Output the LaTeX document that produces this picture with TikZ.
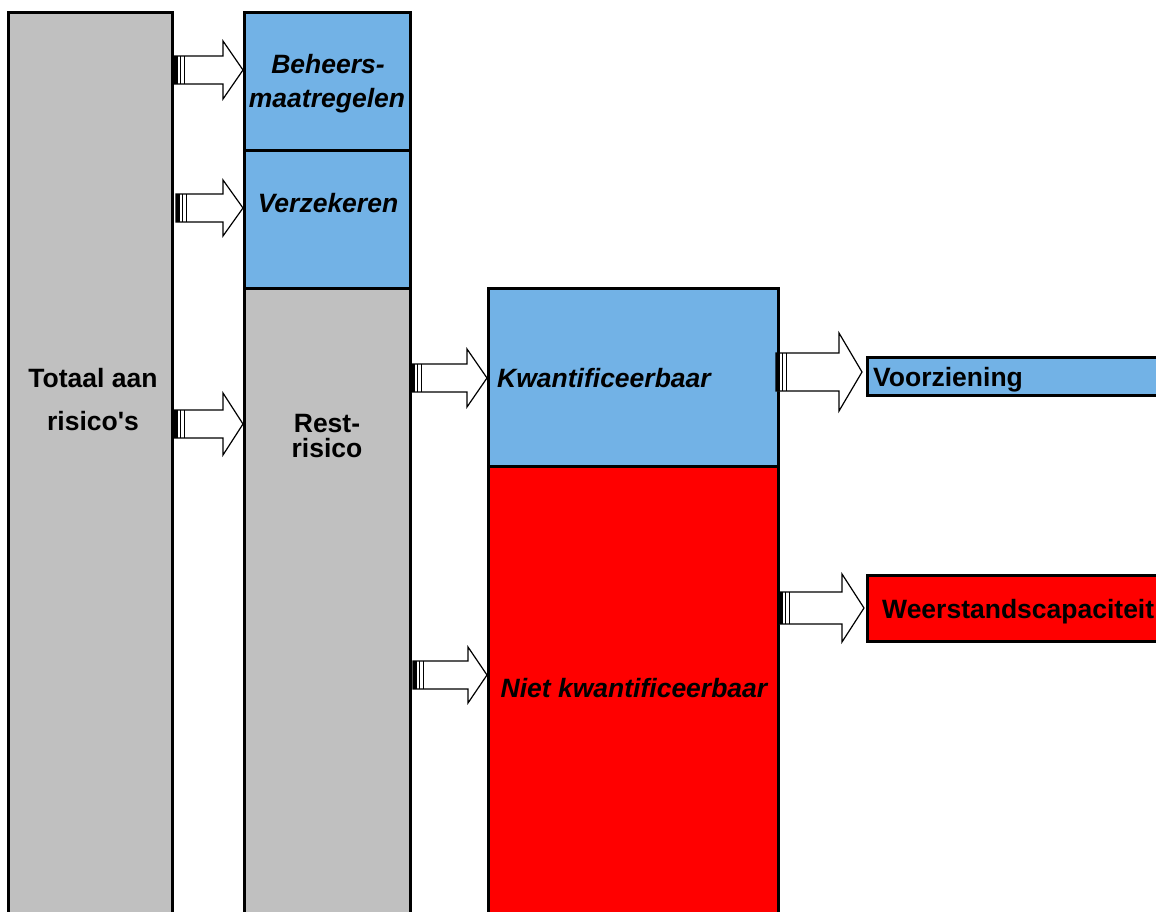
\documentclass[tikz,border=0pt]{standalone}
\usepackage{fontspec}
\setmainfont{Liberation Sans}
\definecolor{lblue}{RGB}{114,178,230}
\definecolor{lgray}{RGB}{192,192,192}
\definecolor{lred}{RGB}{255,0,0}
\newcommand\blkarrow[6]{%
  \draw[fill=white, line width=1.2pt, line join=miter]
    (#1,#3-#4) -- (#2-#6,#3-#4) -- (#2-#6,#3-#5) -- (#2,#3) -- (#2-#6,#3+#5)
    -- (#2-#6,#3+#4) -- (#1,#3+#4) -- cycle;
  \fill (#1,#3-#4) rectangle (#1+4,#3+#4);
  \draw[line width=1pt] (#1+6.5,#3-#4) -- (#1+6.5,#3+#4);
  \draw[line width=1pt] (#1+10,#3-#4) -- (#1+10,#3+#4);
}
\begin{document}
\begin{tikzpicture}[x=1pt,y=-1pt,
  box/.style={draw, line width=3pt},
  lbl/.style={font=\bfseries\fontsize{26.5}{30}\selectfont, anchor=base, inner sep=0},
  ilbl/.style={font=\bfseries\itshape\fontsize{26.5}{30}\selectfont, anchor=base, inner sep=0}]
\useasboundingbox (0,0) rectangle (1156,911);
\clip (0,0) rectangle (1156,911);
% bars
\draw[box, fill=lgray] (8,12) rectangle (172,940);
\draw[box, fill=lblue] (244,12) rectangle (410,150);
\draw[box, fill=lblue] (244,150) rectangle (410,288);
\draw[box, fill=lgray] (244,288) rectangle (410,940);
\draw[box, fill=lblue] (488,288) rectangle (778,466);
\draw[box, fill=lred] (488,466) rectangle (778,940);
\draw[box, fill=lblue] (867,357) rectangle (1175,395);
\draw[box, fill=lred] (867,575) rectangle (1175,641);
% labels
\node[lbl] (tot1) at (93,387) {Totaal aan};
\node[lbl] (tot2) at (93,430) {risico\textquotesingle s};
\node[ilbl] (beh1) at (328,73) {Beheers-};
\node[ilbl] (beh2) at (327,107) {maatregelen};
\node[ilbl] (verz) at (328,212) {Verzekeren};
\node[lbl] (rest1) at (327,432) {Rest-};
\node[lbl] (rest2) at (327,457) {risico};
\node[ilbl, anchor=base west] (kw) at (497,387) {Kwantificeerbaar};
\node[ilbl] (nkw) at (634,697) {Niet kwantificeerbaar};
\node[lbl, anchor=base west] (voor) at (873,386) {Voorziening};
\node[lbl, anchor=base west] (weer) at (882,618) {Weerstandscapaciteit};
% arrows
\blkarrow{174}{243}{70}{14}{29}{20}
\blkarrow{176}{243}{208}{14}{28}{20}
\blkarrow{174}{243}{424}{14}{31}{20}
\blkarrow{411}{487}{378}{14}{29}{20}
\blkarrow{413}{487}{675}{14}{28}{19}
\blkarrow{776}{862}{372}{19}{39}{23}
\blkarrow{779}{864}{608}{16}{34}{22}
\end{tikzpicture}
\end{document}
